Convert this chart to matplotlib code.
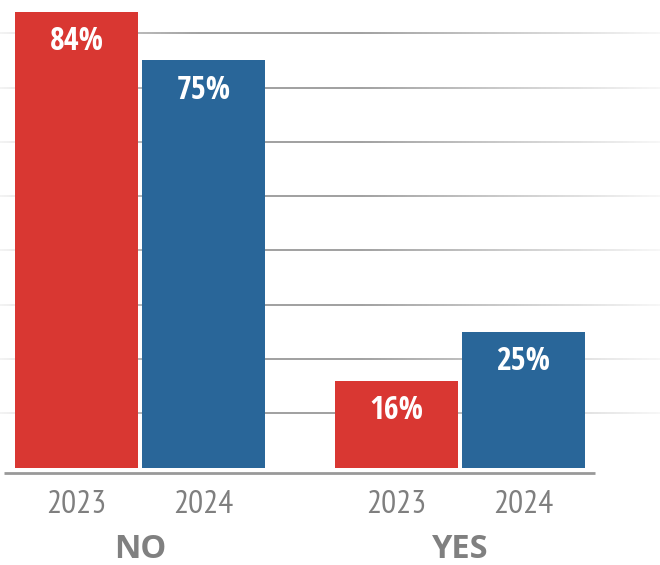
import matplotlib
matplotlib.use("Agg")
import matplotlib.pyplot as plt
import numpy as np
from matplotlib.collections import LineCollection
from matplotlib import font_manager

# ---- data ----
groups = ["NO", "YES"]
years = ["2023", "2024"]
values_2023 = [84, 16]
values_2024 = [75, 25]
colors = {"2023": "#D93732", "2024": "#296699"}

names = {f.name for f in font_manager.fontManager.ttflist}
num_font = [f for f in ["Open Sans Condensed", "PT Sans Narrow", "DejaVu Sans"] if f in names]
tick_font = [f for f in ["PT Sans Narrow", "Roboto Condensed", "DejaVu Sans"] if f in names]
cat_font = [f for f in ["Open Sans", "DejaVu Sans"] if f in names]

W, H, DPI = 660, 565, 100
fig = plt.figure(figsize=(W / DPI, H / DPI), dpi=DPI)
ax = fig.add_axes([0, 0, 1, 1])
ax.set_axis_off()

px_per_unit = 127.0
px_per_pct = 5.43
base_from_top = 467.7
x0_px = 76.5
xmin = -x0_px / px_per_unit
xmax = (W - x0_px) / px_per_unit
ymin = -(H - base_from_top) / px_per_pct
ymax = base_from_top / px_per_pct
ax.set_xlim(xmin, xmax)
ax.set_ylim(ymin, ymax)

group_gap = 2.52
bar_w = 123 / px_per_unit

# gradient gridlines
grid_vals = np.arange(10, 90, 10)
n = 300
xs = np.linspace(xmin, xmax, n + 1)
frac = (xs[:-1] + xs[1:]) / 2
frac = (frac - xmin) / (xmax - xmin)
alpha = np.interp(frac, [0, 0.05, 0.3, 0.55, 1.0], [0.12, 0.3, 1.0, 1.0, 0.08])
for gv in grid_vals:
    segs = [[(xs[i], gv), (xs[i + 1], gv)] for i in range(n)]
    cols = [(0.6, 0.6, 0.6, a) for a in alpha]
    lc = LineCollection(segs, colors=cols, linewidths=1.3, zorder=1)
    ax.add_collection(lc)

# bars
for gi, g in enumerate(groups):
    gx = gi * group_gap
    for yi, (yr, vals) in enumerate(zip(years, [values_2023, values_2024])):
        x = gx + yi
        v = vals[gi]
        ax.bar(x, v, width=bar_w, color=colors[yr], zorder=2, linewidth=0)
        ax.annotate(f"{v}%", (x, v), xytext=(0, -30), textcoords="offset pixels",
                    ha="center", va="center", color="white", fontsize=23,
                    fontweight="bold", family=num_font, zorder=3)
        ax.annotate(yr, (x, 0), xytext=(0, -37), textcoords="offset pixels",
                    ha="center", va="center", color="#7f7f7f", fontsize=24,
                    fontweight="normal", family=tick_font)
    ax.annotate(g, (gx + 0.5, 0), xytext=(0, -82), textcoords="offset pixels",
                ha="center", va="center", color="#808080", fontsize=23.5,
                fontweight="bold", family=cat_font)

# baseline
bl_y = -5.0 / px_per_pct
ax.plot([(4 - x0_px) / px_per_unit, (595 - x0_px) / px_per_unit], [bl_y, bl_y],
        color="#999999", linewidth=2, zorder=2, solid_capstyle="butt")

fig.savefig("out.png", dpi=DPI)
